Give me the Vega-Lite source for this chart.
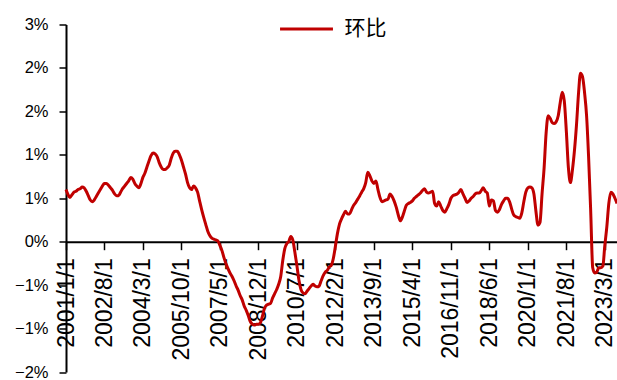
{
  "$schema": "https://vega.github.io/schema/vega-lite/v6.json",
  "width": 551,
  "height": 347.5,
  "autosize": {"type": "none"},
  "padding": {"left": 66, "top": 24.5, "right": 0, "bottom": 8},
  "background": "white",
  "config": {
    "view": {"stroke": null},
    "font": "Arial"
  },
  "data": {
    "values": [
      {"date": "2001-01-01", "value": 0.60}, {"date": "2001-02-01", "value": 0.54}, {"date": "2001-03-01", "value": 0.51}, {"date": "2001-04-01", "value": 0.54}, {"date": "2001-05-01", "value": 0.57}, {"date": "2001-06-01", "value": 0.58}, {"date": "2001-07-01", "value": 0.60}, {"date": "2001-08-01", "value": 0.61}, {"date": "2001-09-01", "value": 0.63}, {"date": "2001-10-01", "value": 0.62}, {"date": "2001-11-01", "value": 0.58}, {"date": "2001-12-01", "value": 0.53},
      {"date": "2002-01-01", "value": 0.48}, {"date": "2002-02-01", "value": 0.46}, {"date": "2002-03-01", "value": 0.48}, {"date": "2002-04-01", "value": 0.52}, {"date": "2002-05-01", "value": 0.56}, {"date": "2002-06-01", "value": 0.60}, {"date": "2002-07-01", "value": 0.64}, {"date": "2002-08-01", "value": 0.67}, {"date": "2002-09-01", "value": 0.67}, {"date": "2002-10-01", "value": 0.65}, {"date": "2002-11-01", "value": 0.62}, {"date": "2002-12-01", "value": 0.59},
      {"date": "2003-01-01", "value": 0.55}, {"date": "2003-02-01", "value": 0.53}, {"date": "2003-03-01", "value": 0.53}, {"date": "2003-04-01", "value": 0.57}, {"date": "2003-05-01", "value": 0.61}, {"date": "2003-06-01", "value": 0.64}, {"date": "2003-07-01", "value": 0.67}, {"date": "2003-08-01", "value": 0.70}, {"date": "2003-09-01", "value": 0.74}, {"date": "2003-10-01", "value": 0.72}, {"date": "2003-11-01", "value": 0.67}, {"date": "2003-12-01", "value": 0.64},
      {"date": "2004-01-01", "value": 0.62}, {"date": "2004-02-01", "value": 0.67}, {"date": "2004-03-01", "value": 0.74}, {"date": "2004-04-01", "value": 0.79}, {"date": "2004-05-01", "value": 0.86}, {"date": "2004-06-01", "value": 0.93}, {"date": "2004-07-01", "value": 0.99}, {"date": "2004-08-01", "value": 1.02}, {"date": "2004-09-01", "value": 1.01}, {"date": "2004-10-01", "value": 0.98}, {"date": "2004-11-01", "value": 0.91}, {"date": "2004-12-01", "value": 0.86},
      {"date": "2005-01-01", "value": 0.83}, {"date": "2005-02-01", "value": 0.83}, {"date": "2005-03-01", "value": 0.85}, {"date": "2005-04-01", "value": 0.88}, {"date": "2005-05-01", "value": 0.96}, {"date": "2005-06-01", "value": 1.02}, {"date": "2005-07-01", "value": 1.04}, {"date": "2005-08-01", "value": 1.04}, {"date": "2005-09-01", "value": 1.00}, {"date": "2005-10-01", "value": 0.94}, {"date": "2005-11-01", "value": 0.86}, {"date": "2005-12-01", "value": 0.78},
      {"date": "2006-01-01", "value": 0.68}, {"date": "2006-02-01", "value": 0.62}, {"date": "2006-03-01", "value": 0.60}, {"date": "2006-04-01", "value": 0.64}, {"date": "2006-05-01", "value": 0.62}, {"date": "2006-06-01", "value": 0.57}, {"date": "2006-07-01", "value": 0.47}, {"date": "2006-08-01", "value": 0.37}, {"date": "2006-09-01", "value": 0.28}, {"date": "2006-10-01", "value": 0.20}, {"date": "2006-11-01", "value": 0.12}, {"date": "2006-12-01", "value": 0.07},
      {"date": "2007-01-01", "value": 0.04}, {"date": "2007-02-01", "value": 0.03}, {"date": "2007-03-01", "value": 0.02}, {"date": "2007-04-01", "value": 0.01}, {"date": "2007-05-01", "value": -0.04}, {"date": "2007-06-01", "value": -0.10}, {"date": "2007-07-01", "value": -0.18}, {"date": "2007-08-01", "value": -0.25}, {"date": "2007-09-01", "value": -0.31}, {"date": "2007-10-01", "value": -0.36}, {"date": "2007-11-01", "value": -0.40}, {"date": "2007-12-01", "value": -0.45},
      {"date": "2008-01-01", "value": -0.51}, {"date": "2008-02-01", "value": -0.56}, {"date": "2008-03-01", "value": -0.62}, {"date": "2008-04-01", "value": -0.67}, {"date": "2008-05-01", "value": -0.74}, {"date": "2008-06-01", "value": -0.79}, {"date": "2008-07-01", "value": -0.85}, {"date": "2008-08-01", "value": -0.92}, {"date": "2008-09-01", "value": -0.95}, {"date": "2008-10-01", "value": -0.96}, {"date": "2008-11-01", "value": -0.95}, {"date": "2008-12-01", "value": -0.95},
      {"date": "2009-01-01", "value": -0.93}, {"date": "2009-02-01", "value": -0.85}, {"date": "2009-03-01", "value": -0.77}, {"date": "2009-04-01", "value": -0.73}, {"date": "2009-05-01", "value": -0.72}, {"date": "2009-06-01", "value": -0.71}, {"date": "2009-07-01", "value": -0.65}, {"date": "2009-08-01", "value": -0.60}, {"date": "2009-09-01", "value": -0.55}, {"date": "2009-10-01", "value": -0.49}, {"date": "2009-11-01", "value": -0.40}, {"date": "2009-12-01", "value": -0.22},
      {"date": "2010-01-01", "value": -0.08}, {"date": "2010-02-01", "value": -0.02}, {"date": "2010-03-01", "value": 0.00}, {"date": "2010-04-01", "value": 0.06}, {"date": "2010-05-01", "value": 0.02}, {"date": "2010-06-01", "value": -0.12}, {"date": "2010-07-01", "value": -0.27}, {"date": "2010-08-01", "value": -0.44}, {"date": "2010-09-01", "value": -0.55}, {"date": "2010-10-01", "value": -0.59}, {"date": "2010-11-01", "value": -0.60}, {"date": "2010-12-01", "value": -0.57},
      {"date": "2011-01-01", "value": -0.54}, {"date": "2011-02-01", "value": -0.51}, {"date": "2011-03-01", "value": -0.49}, {"date": "2011-04-01", "value": -0.51}, {"date": "2011-05-01", "value": -0.52}, {"date": "2011-06-01", "value": -0.51}, {"date": "2011-07-01", "value": -0.45}, {"date": "2011-08-01", "value": -0.39}, {"date": "2011-09-01", "value": -0.35}, {"date": "2011-10-01", "value": -0.33}, {"date": "2011-11-01", "value": -0.29}, {"date": "2011-12-01", "value": -0.27},
      {"date": "2012-01-01", "value": -0.19}, {"date": "2012-02-01", "value": -0.05}, {"date": "2012-03-01", "value": 0.09}, {"date": "2012-04-01", "value": 0.20}, {"date": "2012-05-01", "value": 0.26}, {"date": "2012-06-01", "value": 0.31}, {"date": "2012-07-01", "value": 0.35}, {"date": "2012-08-01", "value": 0.32}, {"date": "2012-09-01", "value": 0.32}, {"date": "2012-10-01", "value": 0.37}, {"date": "2012-11-01", "value": 0.42}, {"date": "2012-12-01", "value": 0.45},
      {"date": "2013-01-01", "value": 0.49}, {"date": "2013-02-01", "value": 0.53}, {"date": "2013-03-01", "value": 0.57}, {"date": "2013-04-01", "value": 0.61}, {"date": "2013-05-01", "value": 0.68}, {"date": "2013-06-01", "value": 0.80}, {"date": "2013-07-01", "value": 0.76}, {"date": "2013-08-01", "value": 0.70}, {"date": "2013-09-01", "value": 0.67}, {"date": "2013-10-01", "value": 0.70}, {"date": "2013-11-01", "value": 0.60}, {"date": "2013-12-01", "value": 0.51},
      {"date": "2014-01-01", "value": 0.46}, {"date": "2014-02-01", "value": 0.47}, {"date": "2014-03-01", "value": 0.48}, {"date": "2014-04-01", "value": 0.49}, {"date": "2014-05-01", "value": 0.55}, {"date": "2014-06-01", "value": 0.52}, {"date": "2014-07-01", "value": 0.47}, {"date": "2014-08-01", "value": 0.40}, {"date": "2014-09-01", "value": 0.31}, {"date": "2014-10-01", "value": 0.24}, {"date": "2014-11-01", "value": 0.28}, {"date": "2014-12-01", "value": 0.35},
      {"date": "2015-01-01", "value": 0.42}, {"date": "2015-02-01", "value": 0.44}, {"date": "2015-03-01", "value": 0.45}, {"date": "2015-04-01", "value": 0.47}, {"date": "2015-05-01", "value": 0.50}, {"date": "2015-06-01", "value": 0.52}, {"date": "2015-07-01", "value": 0.54}, {"date": "2015-08-01", "value": 0.56}, {"date": "2015-09-01", "value": 0.59}, {"date": "2015-10-01", "value": 0.61}, {"date": "2015-11-01", "value": 0.57}, {"date": "2015-12-01", "value": 0.56},
      {"date": "2016-01-01", "value": 0.57}, {"date": "2016-02-01", "value": 0.58}, {"date": "2016-03-01", "value": 0.44}, {"date": "2016-04-01", "value": 0.41}, {"date": "2016-05-01", "value": 0.46}, {"date": "2016-06-01", "value": 0.41}, {"date": "2016-07-01", "value": 0.36}, {"date": "2016-08-01", "value": 0.34}, {"date": "2016-09-01", "value": 0.38}, {"date": "2016-10-01", "value": 0.43}, {"date": "2016-11-01", "value": 0.50}, {"date": "2016-12-01", "value": 0.53},
      {"date": "2017-01-01", "value": 0.54}, {"date": "2017-02-01", "value": 0.55}, {"date": "2017-03-01", "value": 0.57}, {"date": "2017-04-01", "value": 0.60}, {"date": "2017-05-01", "value": 0.55}, {"date": "2017-06-01", "value": 0.50}, {"date": "2017-07-01", "value": 0.45}, {"date": "2017-08-01", "value": 0.47}, {"date": "2017-09-01", "value": 0.50}, {"date": "2017-10-01", "value": 0.52}, {"date": "2017-11-01", "value": 0.55}, {"date": "2017-12-01", "value": 0.56},
      {"date": "2018-01-01", "value": 0.56}, {"date": "2018-02-01", "value": 0.59}, {"date": "2018-03-01", "value": 0.62}, {"date": "2018-04-01", "value": 0.58}, {"date": "2018-05-01", "value": 0.56}, {"date": "2018-06-01", "value": 0.41}, {"date": "2018-07-01", "value": 0.48}, {"date": "2018-08-01", "value": 0.47}, {"date": "2018-09-01", "value": 0.36}, {"date": "2018-10-01", "value": 0.34}, {"date": "2018-11-01", "value": 0.37}, {"date": "2018-12-01", "value": 0.43},
      {"date": "2019-01-01", "value": 0.47}, {"date": "2019-02-01", "value": 0.50}, {"date": "2019-03-01", "value": 0.50}, {"date": "2019-04-01", "value": 0.46}, {"date": "2019-05-01", "value": 0.38}, {"date": "2019-06-01", "value": 0.31}, {"date": "2019-07-01", "value": 0.29}, {"date": "2019-08-01", "value": 0.28}, {"date": "2019-09-01", "value": 0.27}, {"date": "2019-10-01", "value": 0.33}, {"date": "2019-11-01", "value": 0.46}, {"date": "2019-12-01", "value": 0.57},
      {"date": "2020-01-01", "value": 0.62}, {"date": "2020-02-01", "value": 0.63}, {"date": "2020-03-01", "value": 0.62}, {"date": "2020-04-01", "value": 0.55}, {"date": "2020-05-01", "value": 0.35}, {"date": "2020-06-01", "value": 0.19}, {"date": "2020-07-01", "value": 0.22}, {"date": "2020-08-01", "value": 0.55}, {"date": "2020-09-01", "value": 0.85}, {"date": "2020-10-01", "value": 1.25}, {"date": "2020-11-01", "value": 1.45}, {"date": "2020-12-01", "value": 1.42},
      {"date": "2021-01-01", "value": 1.37}, {"date": "2021-02-01", "value": 1.36}, {"date": "2021-03-01", "value": 1.38}, {"date": "2021-04-01", "value": 1.45}, {"date": "2021-05-01", "value": 1.60}, {"date": "2021-06-01", "value": 1.72}, {"date": "2021-07-01", "value": 1.62}, {"date": "2021-08-01", "value": 1.27}, {"date": "2021-09-01", "value": 0.85}, {"date": "2021-10-01", "value": 0.68}, {"date": "2021-11-01", "value": 0.83}, {"date": "2021-12-01", "value": 1.05},
      {"date": "2022-01-01", "value": 1.35}, {"date": "2022-02-01", "value": 1.72}, {"date": "2022-03-01", "value": 1.94}, {"date": "2022-04-01", "value": 1.90}, {"date": "2022-05-01", "value": 1.72}, {"date": "2022-06-01", "value": 1.45}, {"date": "2022-07-01", "value": 0.98}, {"date": "2022-08-01", "value": 0.37}, {"date": "2022-09-01", "value": -0.30}, {"date": "2022-10-01", "value": -0.36}, {"date": "2022-11-01", "value": -0.35}, {"date": "2022-12-01", "value": -0.30},
      {"date": "2023-01-01", "value": -0.30}, {"date": "2023-02-01", "value": -0.28}, {"date": "2023-03-01", "value": -0.05}, {"date": "2023-04-01", "value": 0.17}, {"date": "2023-05-01", "value": 0.44}, {"date": "2023-06-01", "value": 0.57}, {"date": "2023-07-01", "value": 0.55}, {"date": "2023-08-01", "value": 0.50}, {"date": "2023-09-01", "value": 0.44}
    ]
  },
  "mark": {"type": "line", "strokeWidth": 3, "interpolate": "monotone"},
  "encoding": {
    "x": {
      "field": "date",
      "type": "temporal",
      "scale": {
        "type": "utc",
        "domain": [
          {"year": 2001, "month": 1, "date": 1, "utc": true},
          {"year": 2023, "month": 9, "date": 1, "utc": true}
        ]
      },
      "axis": {
        "orient": "bottom",
        "offset": -130.3,
        "title": null,
        "grid": false,
        "values": [
          {"year": 2001, "month": 1, "date": 1, "utc": true},
          {"year": 2002, "month": 8, "date": 1, "utc": true},
          {"year": 2004, "month": 3, "date": 1, "utc": true},
          {"year": 2005, "month": 10, "date": 1, "utc": true},
          {"year": 2007, "month": 5, "date": 1, "utc": true},
          {"year": 2008, "month": 12, "date": 1, "utc": true},
          {"year": 2010, "month": 7, "date": 1, "utc": true},
          {"year": 2012, "month": 2, "date": 1, "utc": true},
          {"year": 2013, "month": 9, "date": 1, "utc": true},
          {"year": 2015, "month": 4, "date": 1, "utc": true},
          {"year": 2016, "month": 11, "date": 1, "utc": true},
          {"year": 2018, "month": 6, "date": 1, "utc": true},
          {"year": 2020, "month": 1, "date": 1, "utc": true},
          {"year": 2021, "month": 8, "date": 1, "utc": true},
          {"year": 2023, "month": 3, "date": 1, "utc": true}
        ],
        "labelExpr": "utcFormat(datum.value, '%Y/%-m/%-d')",
        "labelAngle": 270,
        "labelAlign": "right",
        "labelBaseline": "middle",
        "labelFont": "Arial",
        "labelFontSize": 23,
        "labelColor": "#000000",
        "labelPadding": 8,
        "labelOverlap": false,
        "labelFlush": false,
        "labelBound": false,
        "tickSize": 8,
        "tickWidth": 1.5,
        "tickColor": "#000000",
        "domainColor": "#000000",
        "domainWidth": 2
      }
    },
    "y": {
      "field": "value",
      "type": "quantitative",
      "scale": {"domain": [-1.5, 2.5], "nice": false, "zero": false},
      "axis": {
        "title": null,
        "grid": false,
        "values": [-1.5, -1, -0.5, 0, 0.5, 1, 1.5, 2, 2.5],
        "labelExpr": "(datum.value < 0 ? '\u2212' : '') + round(abs(datum.value)) + '%'",
        "labelFont": "Arial",
        "labelFontSize": 16.5,
        "labelColor": "#000000",
        "labelPadding": 11,
        "tickSize": 7,
        "tickWidth": 1.5,
        "tickColor": "#000000",
        "domainColor": "#000000",
        "domainWidth": 2
      }
    },
    "color": {
      "datum": "环比",
      "type": "nominal",
      "scale": {"range": ["#C00000"]},
      "legend": {
        "title": null,
        "orient": "none",
        "legendX": 212.5,
        "legendY": -23.5,
        "padding": 0,
        "symbolType": "stroke",
        "symbolSize": 2800,
        "symbolStrokeWidth": 3,
        "labelFont": "Noto Sans CJK SC",
        "labelFontSize": 21,
        "labelColor": "#000000",
        "labelOffset": 10
      }
    }
  }
}
